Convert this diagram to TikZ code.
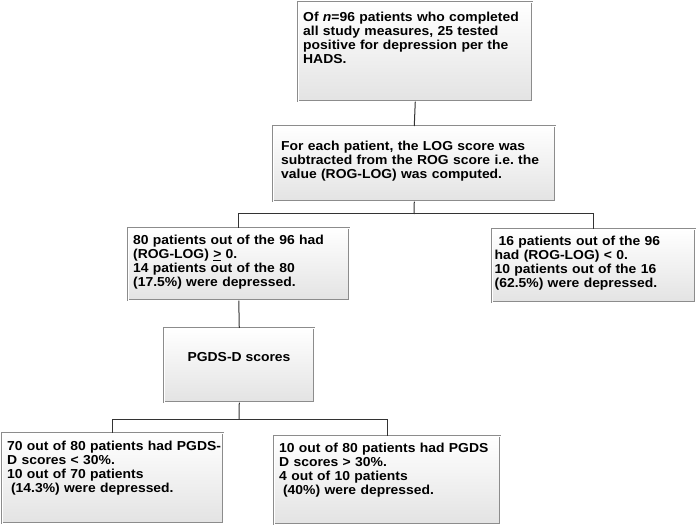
\documentclass[tikz,border=0pt]{standalone}
\usepackage{fontspec}
\setmainfont{Liberation Sans}[FakeStretch=1.07]
\usetikzlibrary{shadows}
\frenchspacing
\begin{document}
\begin{tikzpicture}[x=1pt,y=-1pt,
  box/.style={draw=black!45, double=white, double distance=1.1pt, line width=0.55pt,
    top color=white, bottom color=black!11, inner sep=0pt, anchor=north west,
    drop shadow={opacity=0.15, shadow xshift=1.2pt, shadow yshift=-1.2pt}},
  txt/.style={anchor=base west, inner sep=0pt, text width=270pt, align=left,
    font=\bfseries\fontsize{13}{14}\selectfont\frenchspacing},
  link/.style={draw=black!80, line width=1pt}]
\path[use as bounding box, fill=white] (0,0) rectangle (696,526);

% boxes
\node[box, minimum width=234pt, minimum height=99pt] (b1) at (298,2) {};
\node[box, minimum width=282pt, minimum height=75pt] (b2) at (273,126) {};
\node[box, minimum width=221pt, minimum height=72pt] (b3) at (128,228) {};
\node[box, minimum width=203pt, minimum height=73pt] (b4) at (492,229) {};
\node[box, minimum width=150pt, minimum height=74pt] (b5) at (164,328) {};
\node[box, minimum width=221pt, minimum height=90pt] (b6) at (2,433) {};
\node[box, minimum width=226pt, minimum height=88pt] (b7) at (274,436) {};

% texts
\node[txt] (t1) at (303,21.5) {Of \textit{n}=96 patients who completed\\all study measures, 25 tested\\positive for depression per the\\HADS.};
\node[txt] (t2) at (281,151) {For each patient, the LOG score was\\subtracted from the ROG score i.e. the\\value (ROG-LOG) was computed.};
\node[txt] (t3) at (133,245) {80 patients out of the 96 had\\(ROG-LOG) \underline{>} 0.\\14 patients out of the 80\\(17.5\%) were depressed.};
\node[txt] (t4) at (494.5,246) {\hspace*{3.9pt}16 patients out of the 96\\had (ROG-LOG) < 0.\\10 patients out of the 16\\(62.5\%) were depressed.};
\node[anchor=base, inner sep=0pt, font=\bfseries\fontsize{13}{14}\selectfont] (t5) at (239,361.5) {PGDS-D scores};
\node[txt] (t6) at (7,450) {70 out of 80 patients had PGDS-\\D scores < 30\%.\\10 out of 70 patients\\\hspace*{3.9pt}(14.3\%) were depressed.};
\node[txt] (t7) at (279,452) {10 out of 80 patients had PGDS\\D scores > 30\%.\\4 out of 10 patients\\\hspace*{3.9pt}(40\%) were depressed.};

% connectors
\coordinate (s1) at (414,214);
\coordinate (s2) at (239,419);
\draw[link] (b1.south) -- (b2.north);
\draw[link] (b2.south) -- (s1);
\draw[link] (s1) -| (b3.north);
\draw[link] (s1) -| (b4.north);
\draw[link] (b3.south) -- (b5.north);
\draw[link] (b5.south) -- (s2);
\draw[link] (s2) -| (b6.north);
\draw[link] (s2) -| (b7.north);
\end{tikzpicture}
\end{document}
